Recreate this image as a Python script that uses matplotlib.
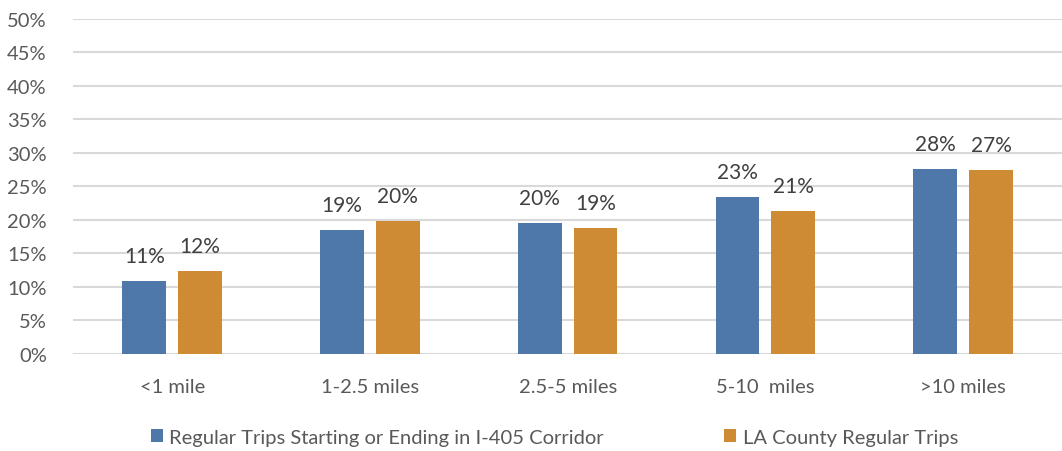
import numpy as np
import matplotlib.pyplot as plt

categories = ['<1 mile', '1-2.5 miles', '2.5-5 miles', '5-10  miles', '>10 miles']
corridor = [10.9, 18.5, 19.6, 23.4, 27.6]      # % regular trips, I-405 corridor
la_county = [12.4, 19.8, 18.8, 21.4, 27.4]     # % LA County regular trips
series_names = ['Regular Trips Starting or Ending in I-405 Corridor', 'LA County Regular Trips']

plt.rcParams['font.family'] = ['Lato', 'DejaVu Sans']

fig = plt.figure(figsize=(10.62, 4.52), dpi=100)
ax = fig.add_axes([0.069, 0.2146, 0.931, 0.7412])

x = np.arange(len(categories))
w = 0.222
off = 0.141
b1 = ax.bar(x - off, corridor, w, color='#4e78a9', label=series_names[0], zorder=3)
b2 = ax.bar(x + off, la_county, w, color='#cf8a34', label=series_names[1], zorder=3)

for bars, vals in ((b1, corridor), (b2, la_county)):
    for rect, v in zip(bars, vals):
        ax.annotate(f'{int(v + 0.5)}%', (rect.get_x() + rect.get_width() / 2, v),
                    xytext=(0, 15), textcoords='offset pixels', ha='center', va='bottom',
                    fontsize=15, color='#404040')

ax.set_xlim(-0.5, 4.5)
ax.set_ylim(0, 50)
ax.set_yticks(range(0, 51, 5))
ax.set_yticklabels([f'{t}%' for t in range(0, 51, 5)])
ax.set_xticks(x)
ax.set_xticklabels(categories)
ax.tick_params(axis='both', length=0, labelsize=14.5, colors='#595959')
ax.tick_params(axis='y', pad=19)
ax.tick_params(axis='x', pad=17)
ax.grid(axis='y', color='#d9d9d9', linewidth=1.5, zorder=0)
for s in ax.spines.values():
    s.set_visible(False)

fig.legend(loc='center', bbox_to_anchor=(0.522, 0.03), ncol=2, frameon=False,
           fontsize=14.5, labelcolor='#595959', handlelength=0.6, handleheight=0.6,
           handletextpad=0.3, columnspacing=6.0)

fig.savefig('out.png')
